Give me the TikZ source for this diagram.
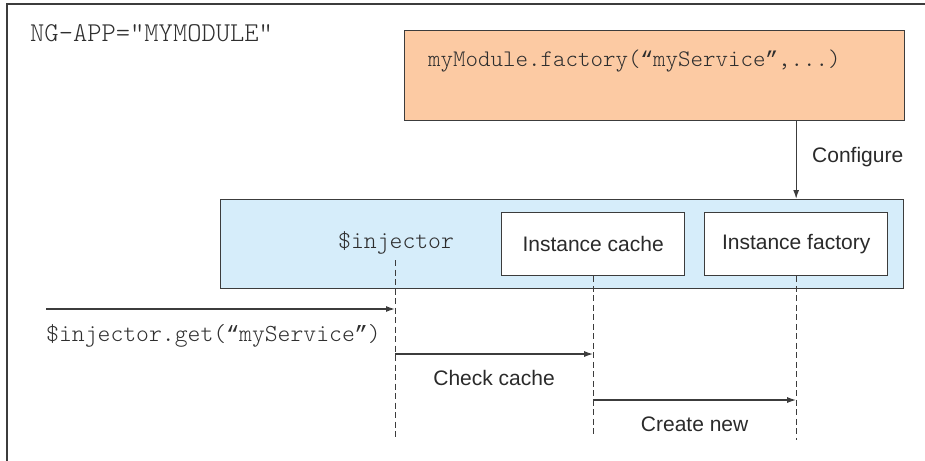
\documentclass[tikz,border=0pt]{standalone}
\usepackage{fontspec}
\setmainfont{Liberation Sans}
\newfontfamily\lightmono{Latin Modern Mono Light}
\newfontfamily\quotemono{Liberation Mono}
\newcommand\qL{\makebox[0.525em][c]{\quotemono\fontsize{0.9em}{1em}\selectfont “}}
\newcommand\qR{\makebox[0.525em][c]{\quotemono\fontsize{0.9em}{1em}\selectfont ”}}
\usetikzlibrary{arrows.meta,positioning,calc}
\definecolor{linegray}{HTML}{3C3C3C}
\definecolor{peach}{HTML}{FCCAA3}
\definecolor{paleblue}{HTML}{D6EDFA}
\definecolor{textgray}{HTML}{2A2A2A}
\definecolor{monogray}{HTML}{2E2E2E}
\tikzset{
  boxline/.style={draw=linegray, line width=1.3pt},
  mono/.style={font=\lightmono\fontsize{24.5}{26}\selectfont, text=monogray, inner sep=0pt},
  sans/.style={font=\fontsize{21}{24}\selectfont, text=textgray, inner sep=0pt},
  msg/.style={draw=linegray, line width=1.3pt, -{Latex[length=9pt,width=6pt]}},
  lifeline/.style={draw=linegray, line width=1pt, dash pattern=on 6pt off 3.5pt},
}
\begin{document}
\begin{tikzpicture}[x=1pt,y=-1pt]
\useasboundingbox (0,0) rectangle (925,460);
% outer frame (only left and top visible)
\draw[draw=linegray, line width=1.8pt] (7,461) -- (7,4) -- (926,4);
\node[mono, anchor=west, font=\lightmono\fontsize{27.2}{30}\selectfont] (ngapp) at (30,33) {NG-APP="MYMODULE"};
% module box
\node[boxline, fill=peach, minimum width=500pt, minimum height=90pt, inner sep=0pt, anchor=north west] (module) at (404,30) {};
\node[mono, anchor=west, font=\lightmono\fontsize{23.8}{26}\selectfont] (factorycall) at (428,61) {myModule.factory(\qL myService\qR,...)};
% injector box
\node[boxline, fill=paleblue, minimum width=683pt, minimum height=89pt, inner sep=0pt, anchor=north west] (injbox) at (220,199) {};
\node[mono, anchor=west] (inj) at (338,243) {\$injector};
\node[boxline, fill=white, minimum width=183pt, minimum height=63pt, inner sep=0pt, anchor=north west, sans] (cache) at (501,212) {Instance cache};
\node[boxline, fill=white, minimum width=183pt, minimum height=63pt, inner sep=0pt, anchor=north west, sans] (factory) at (704,212) {Instance factory};
% configure arrow
\coordinate (cfgtop) at (module.south -| factory.south);
\coordinate (cfgbot) at (injbox.north -| factory.south);
\draw[msg] (cfgtop) -- (cfgbot);
\node[sans, anchor=west] (cfglabel) at (812,157) {Configure};
% lifelines
\coordinate (injtop) at (395,260);
\coordinate (injend) at (395,437);
\coordinate (cacheend) at (cache.south |- 0,437);
\coordinate (factend) at (factory.south |- 0,440);
\draw[lifeline] (injtop) -- (injend);
\draw[lifeline] (cache.south) -- (cacheend);
\draw[lifeline] (factory.south) -- (factend);
% messages
\coordinate (callstart) at (46,309);
\coordinate (callend) at (injtop |- callstart);
\draw[msg] (callstart) -- (callend);
\node[mono, anchor=west] (calllabel) at (46,336) {\$injector.get(\qL myService\qR)};
\coordinate (chkstart) at (injtop |- 0,354);
\coordinate (chkend) at (cache.south |- 0,354);
\draw[msg] (chkstart) -- (chkend);
\node[sans] (chklabel) at ($(chkstart)!0.5!(chkend)+(0,24)$) {Check cache};
\coordinate (newstart) at (cache.south |- 0,400);
\coordinate (newend) at (factory.south |- 0,400);
\draw[msg] (newstart) -- (newend);
\node[sans] (newlabel) at ($(newstart)!0.5!(newend)+(0,24)$) {Create new};
\end{tikzpicture}
\end{document}
